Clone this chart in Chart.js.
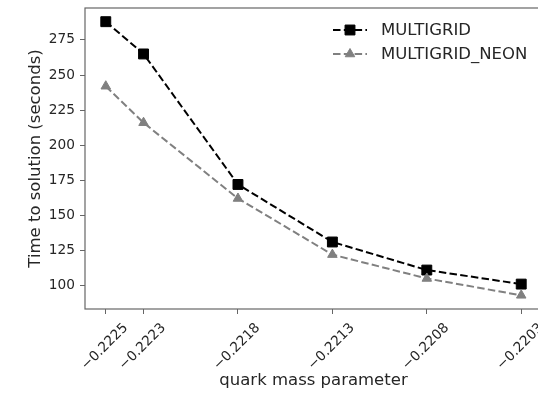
<!DOCTYPE html>
<html>
<head>
<meta charset="utf-8">
<script src="https://cdn.jsdelivr.net/npm/chart.js@4.4.0/dist/chart.umd.min.js"></script>
<style>
  html, body { margin: 0; padding: 0; background: #fff; }
  #frame { width: 538px; height: 394px; overflow: hidden; position: relative; }
  #wrap { width: 560px; height: 394px; position: absolute; left: 0; top: 0; }
</style>
</head>
<body>
<div id="frame"><div id="wrap"><canvas id="chart"></canvas></div></div>
<script>
// quark mass values (x) and time to solution (y)
const massValues = [-0.2225, -0.2223, -0.2218, -0.2213, -0.2208, -0.2203];
const massLabels = ['\u22120.2225', '\u22120.2223', '\u22120.2218', '\u22120.2213', '\u22120.2208', '\u22120.2203'];
const multigrid = [288, 265, 172, 131, 111, 101];
const multigridNeon = [242, 216, 162, 122, 105, 93];
const yTicks = [100, 125, 150, 175, 200, 225, 250, 275];
const seriesNames = ['MULTIGRID', 'MULTIGRID_NEON'];

const FONT = '"DejaVu Sans", "Liberation Sans", sans-serif';
const TEXT = '#262626';
const SPINE = '#666666';

function toPoints(values) {
    return massValues.map((x, i) => ({ x: x, y: values[i] }));
}

// axes frame (all four spines) drawn over the plot like matplotlib
const framePlugin = {
    id: 'frame',
    afterDatasetsDraw(chart) {
        const { ctx, chartArea } = chart;
        ctx.save();
        ctx.strokeStyle = SPINE;
        ctx.lineWidth = 1.2;
        ctx.strokeRect(chartArea.left, chartArea.top, chartArea.right - chartArea.left, chartArea.bottom - chartArea.top);
        ctx.restore();
    }
};

// legend with dashed line sample + marker, no box
const legendPlugin = {
    id: 'lineLegend',
    afterDraw(chart) {
        const { ctx, chartArea } = chart;
        chart.data.datasets.forEach((ds, i) => {
            const y = chartArea.top + 22 + i * 24;
            const x0 = chartArea.right - 209;
            const x1 = x0 + 34;
            const cx = (x0 + x1) / 2;
            ctx.save();
            ctx.strokeStyle = ds.borderColor;
            ctx.lineWidth = ds.borderWidth;
            ctx.setLineDash(ds.borderDash);
            ctx.beginPath();
            ctx.moveTo(x0, y);
            ctx.lineTo(x1, y);
            ctx.stroke();
            ctx.setLineDash([]);
            ctx.fillStyle = ds.pointBackgroundColor;
            ctx.strokeStyle = ds.pointBorderColor;
            ctx.lineWidth = 1;
            ctx.beginPath();
            const r = ds.pointRadius;
            if (ds.pointStyle === 'rect') {
                const h = Math.SQRT1_2 * r;
                ctx.rect(cx - h, y - h, 2 * h, 2 * h);
            } else {
                ctx.moveTo(cx, y - r);
                ctx.lineTo(cx + r * 0.866, y + r * 0.5);
                ctx.lineTo(cx - r * 0.866, y + r * 0.5);
                ctx.closePath();
            }
            ctx.fill();
            ctx.stroke();
            ctx.font = '16.5px ' + FONT;
            ctx.fillStyle = TEXT;
            ctx.textBaseline = 'middle';
            ctx.textAlign = 'left';
            ctx.fillText(seriesNames[i], x0 + 48, y + 1);
            ctx.restore();
        });
    }
};

const ctx = document.getElementById('chart').getContext('2d');
const chart = new Chart(ctx, {
    type: 'scatter',
    data: {
        datasets: [{
            label: seriesNames[0],
            data: toPoints(multigrid),
            showLine: true,
            borderColor: '#000000',
            borderWidth: 2,
            borderDash: [7.5, 3.3],
            pointStyle: 'rect',
            pointRadius: 7,
            pointBackgroundColor: '#000000',
            pointBorderColor: '#000000',
            pointBorderWidth: 1,
            order: 1
        }, {
            label: seriesNames[1],
            data: toPoints(multigridNeon),
            showLine: true,
            borderColor: '#808080',
            borderWidth: 2,
            borderDash: [7.5, 3.3],
            pointStyle: 'triangle',
            pointRadius: 5.5,
            pointBackgroundColor: '#808080',
            pointBorderColor: '#808080',
            pointBorderWidth: 1,
            order: 0
        }]
    },
    options: {
        responsive: true,
        maintainAspectRatio: false,
        animation: false,
        events: [],
        layout: { padding: { left: 0, top: 7, right: 18, bottom: 0 } },
        plugins: {
            legend: { display: false },
            tooltip: { enabled: false }
        },
        scales: {
            x: {
                type: 'linear',
                min: -0.22261,
                max: -0.22019,
                border: { display: false },
                grid: { drawOnChartArea: false, drawTicks: true, tickLength: 5, color: SPINE },
                afterBuildTicks: (scale) => { scale.ticks = massValues.map(v => ({ value: v })); },
                afterFit: (scale) => {
                    scale.height = 85;
                    scale.paddingLeft = 0;
                    scale.paddingRight = 0;
                },
                ticks: {
                    autoSkip: false,
                    minRotation: 45,
                    maxRotation: 45,
                    labelOffset: 20,
                    padding: 6,
                    color: TEXT,
                    font: { family: FONT, size: 13.7 },
                    callback: (value, index) => massLabels[index]
                },
                title: {
                    display: true,
                    text: 'quark mass parameter',
                    color: TEXT,
                    font: { family: FONT, size: 16.5 },
                    padding: { top: 0, bottom: 3 }
                }
            },
            y: {
                type: 'linear',
                min: 83.25,
                max: 297.75,
                border: { display: false },
                grid: { drawOnChartArea: false, drawTicks: true, tickLength: 5, color: SPINE },
                afterBuildTicks: (scale) => { scale.ticks = yTicks.map(v => ({ value: v })); },
                afterFit: (scale) => {
                    scale.width = 85;
                    scale.paddingTop = 0;
                    scale.paddingBottom = 0;
                },
                ticks: {
                    padding: 5,
                    color: TEXT,
                    font: { family: FONT, size: 13.7 },
                    callback: (value) => String(value)
                },
                title: {
                    display: true,
                    text: 'Time to solution (seconds)',
                    color: TEXT,
                    font: { family: FONT, size: 16.5 },
                    padding: { top: 26, bottom: 0 }
                }
            }
        }
    },
    plugins: [framePlugin, legendPlugin]
});
</script>
</body>
</html>
